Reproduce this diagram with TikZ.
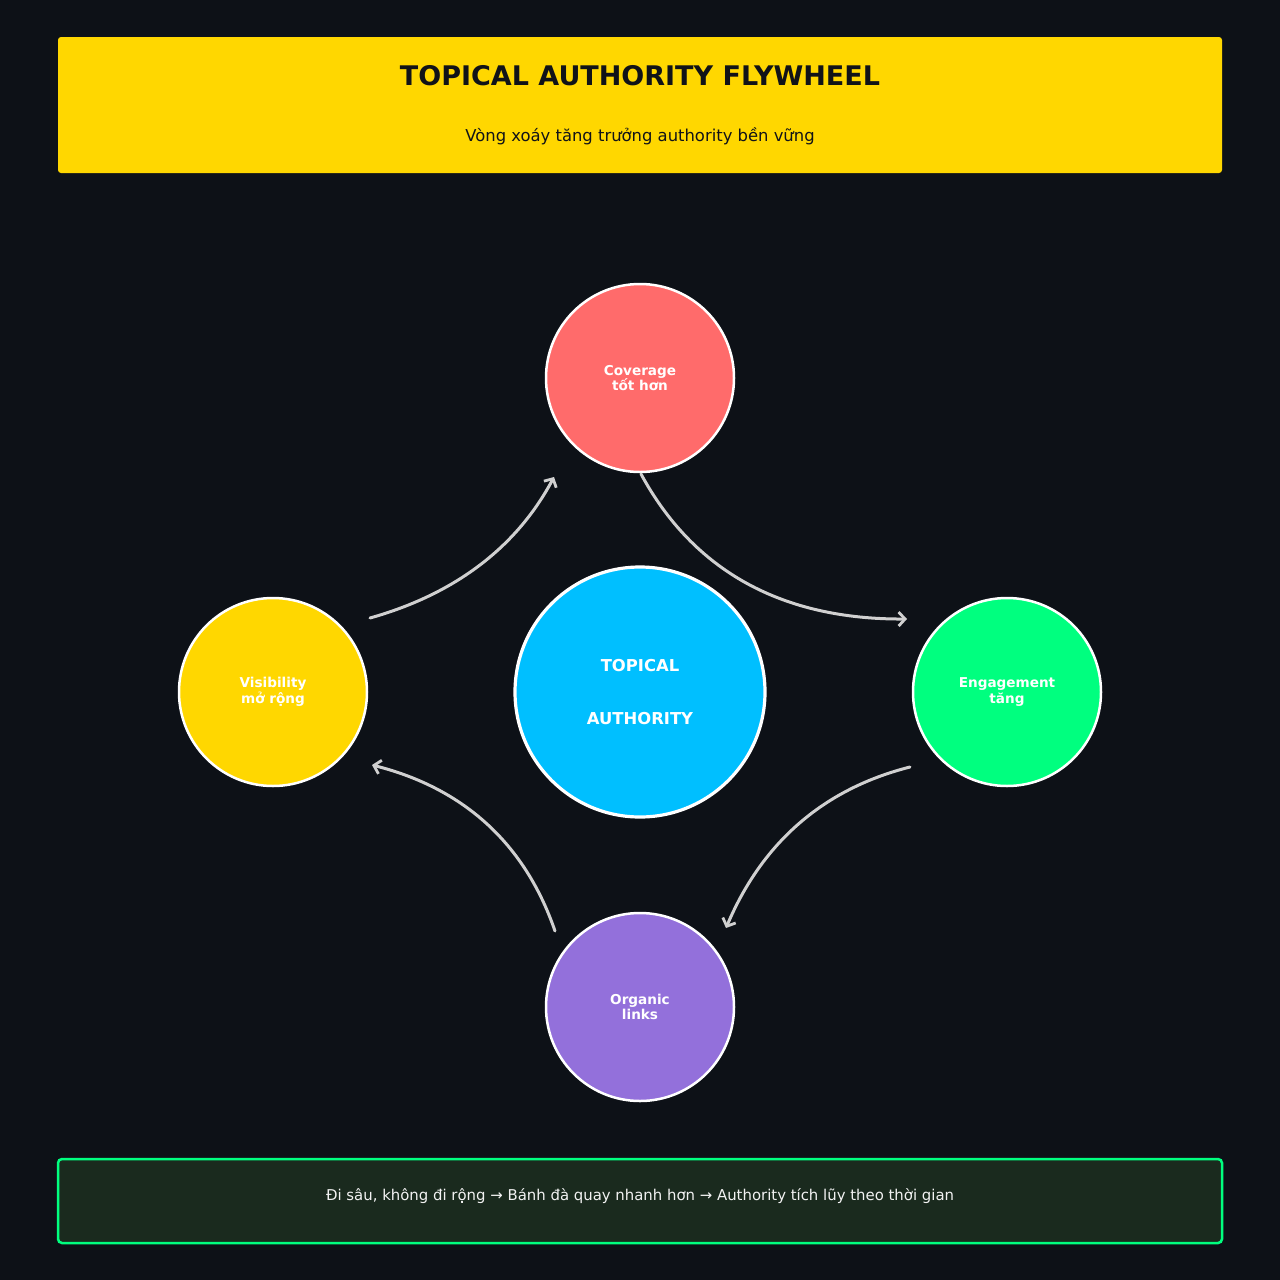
\documentclass[tikz,border=0pt]{standalone}
\usepackage{fontspec}
\setmainfont{DejaVu Sans}
\usetikzlibrary{arrows.meta,calc}
\definecolor{bg}{HTML}{0D1117}
\definecolor{gold}{HTML}{FFD700}
\definecolor{coral}{HTML}{FF6B6B}
\definecolor{sky}{HTML}{00BFFF}
\definecolor{spring}{HTML}{00FF7F}
\definecolor{purp}{HTML}{9370DB}
\definecolor{footbg}{HTML}{1A2A1E}
\definecolor{arrowc}{HTML}{D0D0D0}
\definecolor{titlec}{HTML}{111318}
\tikzset{
  x=1pt,y=-1pt,
  smallcirc/.style={circle,draw=white,line width=2.5pt,minimum size=188pt,inner sep=0pt,
    text=white,font=\bfseries\fontsize{13.6}{15.5}\selectfont,align=center},
  bigcirc/.style={circle,draw=white,line width=3.2pt,minimum size=250pt,inner sep=0pt,
    text=white,font=\bfseries\fontsize{16.4}{53}\selectfont,align=center},
  flow/.style={draw=arrowc,line width=3pt,line cap=round,
    -{Straight Barb[length=6.5pt,width=14pt,line width=2.8pt]}},
}
\begin{document}
\begin{tikzpicture}
\fill[bg] (0,0) rectangle (1280,1280);
\useasboundingbox (0,0) rectangle (1280,1280);
% header
\node[fill=gold,rounded corners=3pt,minimum width=1164pt,minimum height=136pt,inner sep=0pt] (header) at (640,105) {};
\node[text=titlec,font=\bfseries\fontsize{27}{31}\selectfont] (title) at (640,76) {TOPICAL AUTHORITY FLYWHEEL};
\node[text=titlec,font=\fontsize{16.4}{19}\selectfont] (subtitle) at (640,136) {Vòng xoáy tăng trưởng authority bền vững};
% circles
\node[bigcirc,fill=sky] (center) at (640,692) {TOPICAL\\AUTHORITY};
\node[smallcirc,fill=coral] (top) at (640,378) {Coverage\\tốt hơn};
\node[smallcirc,fill=spring] (right) at (1007,692) {Engagement\\tăng};
\node[smallcirc,fill=purp] (bottom) at (640,1007) {Organic\\links};
\node[smallcirc,fill=gold] (left) at (273,692) {Visibility\\mở rộng};
% arrow end points
\coordinate (a1s) at ($(left)+(97,-74)$);
\coordinate (a1e) at ($(top)+(-86,99)$);
\coordinate (a2s) at ($(top)+(1,96)$);
\coordinate (a2e) at ($(right)+(-100,-73)$);
\coordinate (a3s) at ($(right)+(-97,75)$);
\coordinate (a3e) at ($(bottom)+(86,-79)$);
\coordinate (a4s) at ($(bottom)+(-85,-76)$);
\coordinate (a4e) at ($(left)+(99,73)$);
\draw[flow] (a1s) .. controls (455.3,594) and (516.7,547) .. (a1e);
\draw[flow] (a2s) .. controls (693.7,571.3) and (782.3,619.7) .. (a2e);
\draw[flow] (a3s) .. controls (823.3,789) and (762,842.7) .. (a3e);
\draw[flow] (a4s) .. controls (525,843.7) and (464,788.3) .. (a4e);
% footer
\node[fill=footbg,draw=spring,line width=2.5pt,rounded corners=4pt,minimum width=1164pt,minimum height=84pt,inner sep=0pt] (footer) at (640,1201) {};
\node[text=white!90!gray,font=\fontsize{14.9}{18}\selectfont] (foottext) at (640,1196) {Đi sâu, không đi rộng → Bánh đà quay nhanh hơn → Authority tích lũy theo thời gian};
\end{tikzpicture}
\end{document}
